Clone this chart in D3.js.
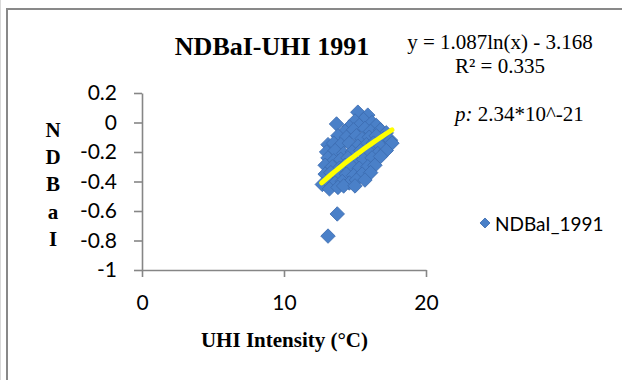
<!DOCTYPE html>
<html>
<head>
<meta charset="utf-8">
<script src="https://cdn.jsdelivr.net/npm/d3@7"></script>
<style>
  html, body { margin: 0; padding: 0; background: #fff; }
  svg { display: block; }
</style>
</head>
<body>
<svg id="chart" width="622" height="380"></svg>
<script>
// ---- data ----
const uhiX = [15.2,15.9,15.6,15.0,16.2,13.7,14.6,15.3,16.5,14.3,14.9,15.7,16.1,16.8,17.2,
  13.8,14.4,15.1,15.5,16.0,16.5,17.0,17.5,
  13.1,13.5,14.0,14.6,15.2,15.8,16.3,16.8,17.6,
  13.0,13.6,14.2,14.8,15.4,16.0,16.6,17.2,
  13.1,13.5,14.0,14.5,15.0,15.6,16.2,16.8,
  12.9,13.4,13.9,14.3,14.8,15.3,15.9,16.4,
  12.9,13.3,13.8,14.4,14.9,15.5,16.1,
  12.7,13.1,13.6,14.1,14.6,15.1,15.7,
  13.2,13.8,14.2,15.0,
  13.75,13.1];
const ndbaiY = [0.07,0.05,0.02,0.01,0.0,-0.01,-0.03,-0.02,-0.02,-0.06,-0.05,-0.04,-0.06,-0.05,-0.07,
  -0.09,-0.10,-0.09,-0.11,-0.10,-0.09,-0.11,-0.12,
  -0.15,-0.14,-0.15,-0.14,-0.16,-0.15,-0.14,-0.16,-0.14,
  -0.20,-0.19,-0.21,-0.20,-0.19,-0.20,-0.21,-0.19,
  -0.24,-0.26,-0.25,-0.24,-0.26,-0.25,-0.24,-0.23,
  -0.29,-0.30,-0.31,-0.29,-0.30,-0.31,-0.30,-0.29,
  -0.35,-0.34,-0.36,-0.35,-0.36,-0.35,-0.34,
  -0.42,-0.40,-0.41,-0.40,-0.41,-0.39,-0.39,
  -0.45,-0.44,-0.43,-0.43,
  -0.62,-0.77];
const trendCoef = [1.087, -3.168];       // y = a ln(x) + b
const trendRange = [12.65, 17.6];
const xTicks = [0, 10, 20];
const xTickLabels = ["0", "10", "20"];
const yTicks = [0.2, 0, -0.2, -0.4, -0.6, -0.8, -1];
const yTickLabels = ["0.2", "0", "-0.2", "-0.4", "-0.6", "-0.8", "-1"];
const titleText = "NDBaI-UHI 1991";
const eqText = "y = 1.087ln(x) - 3.168";
const r2Text = "R\u00B2 = 0.335";
const pLabel = "p:";
const pValue = " 2.34*10^-21";
const xTitle = "UHI Intensity (\u00B0C)";
const yTitle = "NDBaI";
const seriesName = "NDBaI_1991";

// ---- drawing ----
const svg = d3.select("#chart");
const serif = "'Liberation Serif', 'Times New Roman', serif";
const sans = "Lato, 'Open Sans', sans-serif";
const axisColor = "#868686";
const markerFill = "#4a80c8";
const markerStroke = "#3c6cb0";

// outer frame
svg.append("line").attr("x1", 0.5).attr("x2", 0.5).attr("y1", 0).attr("y2", 380)
  .attr("stroke", "#d9d9d9").attr("stroke-width", 1);
svg.append("line").attr("x1", 7).attr("x2", 7).attr("y1", 8).attr("y2", 380)
  .attr("stroke", "#898989").attr("stroke-width", 2);
svg.append("line").attr("x1", 6).attr("x2", 622).attr("y1", 9).attr("y2", 9)
  .attr("stroke", "#898989").attr("stroke-width", 2);

const x = d3.scaleLinear().domain([0, 20]).range([142, 426]);
const y = d3.scaleLinear().domain([-1, 0.2]).range([270, 93]);

// y axis
const yAxis = svg.append("g").attr("transform", "translate(142,0)")
  .call(d3.axisLeft(y).tickValues(yTicks).tickFormat((d, i) => yTickLabels[i])
    .tickSize(8).tickSizeOuter(0).tickPadding(17));
// x axis
const xAxis = svg.append("g").attr("transform", "translate(0,270)")
  .call(d3.axisBottom(x).tickValues(xTicks).tickFormat((d, i) => xTickLabels[i])
    .tickSize(7).tickSizeOuter(0).tickPadding(18));
[yAxis, xAxis].forEach(g => {
  g.select(".domain").attr("stroke", axisColor).attr("stroke-width", 1.6);
  g.selectAll(".tick line").attr("stroke", axisColor).attr("stroke-width", 1.6);
  g.selectAll(".tick text").attr("fill", "#000").style("font-family", sans).style("font-size", "21px");
});

// points
const pts = uhiX.map((v, i) => ({x: v, y: ndbaiY[i]}));
const diamond = d3.symbol().type(d3.symbolSquare).size(105);
svg.append("g").selectAll("path").data(pts).join("path")
  .attr("d", diamond)
  .attr("transform", d => `translate(${x(d.x)},${y(d.y)}) rotate(45)`)
  .attr("fill", markerFill).attr("stroke", markerStroke).attr("stroke-width", 0.8);

// trend line (from displayed equation)
const trendPts = d3.range(0, 21).map(i => {
  const xv = trendRange[0] + (trendRange[1] - trendRange[0]) * i / 20;
  return [xv, trendCoef[0] * Math.log(xv) + trendCoef[1]];
});
svg.append("path").datum(trendPts)
  .attr("d", d3.line().x(d => x(d[0])).y(d => y(d[1])))
  .attr("fill", "none").attr("stroke", "#ffff00").attr("stroke-width", 5)
  .attr("stroke-linecap", "round");

// title
svg.append("text").attr("x", 272).attr("y", 55).attr("text-anchor", "middle")
  .style("font-family", serif).style("font-weight", "bold").style("font-size", "26px")
  .text(titleText);

// equation
svg.append("text").attr("x", 500).attr("y", 49).attr("text-anchor", "middle")
  .style("font-family", serif).style("font-size", "21px").text(eqText);
svg.append("text").attr("x", 500).attr("y", 73).attr("text-anchor", "middle")
  .style("font-family", serif).style("font-size", "21px").text(r2Text);
const pt = svg.append("text").attr("x", 455).attr("y", 121)
  .style("font-family", serif).style("font-size", "21px");
pt.append("tspan").style("font-style", "italic").text(pLabel);
pt.append("tspan").text(pValue);

// axis titles
svg.append("text").attr("x", 284.5).attr("y", 347).attr("text-anchor", "middle")
  .style("font-family", serif).style("font-weight", "bold").style("font-size", "21px")
  .text(xTitle);
svg.append("g").selectAll("text").data(yTitle.split("")).join("text")
  .attr("x", 53).attr("y", (d, i) => 136.7 + i * 27.3).attr("text-anchor", "middle")
  .style("font-family", serif).style("font-weight", "bold").style("font-size", "21px")
  .text(d => d);

// legend
svg.append("path").attr("d", d3.symbol().type(d3.symbolSquare).size(50))
  .attr("transform", "translate(485,223) rotate(45)")
  .attr("fill", markerFill).attr("stroke", markerStroke).attr("stroke-width", 0.8);
svg.append("text").attr("x", 495).attr("y", 223).attr("dominant-baseline", "central")
  .style("font-family", sans).style("font-size", "19px").text(seriesName);
</script>
</body>
</html>
